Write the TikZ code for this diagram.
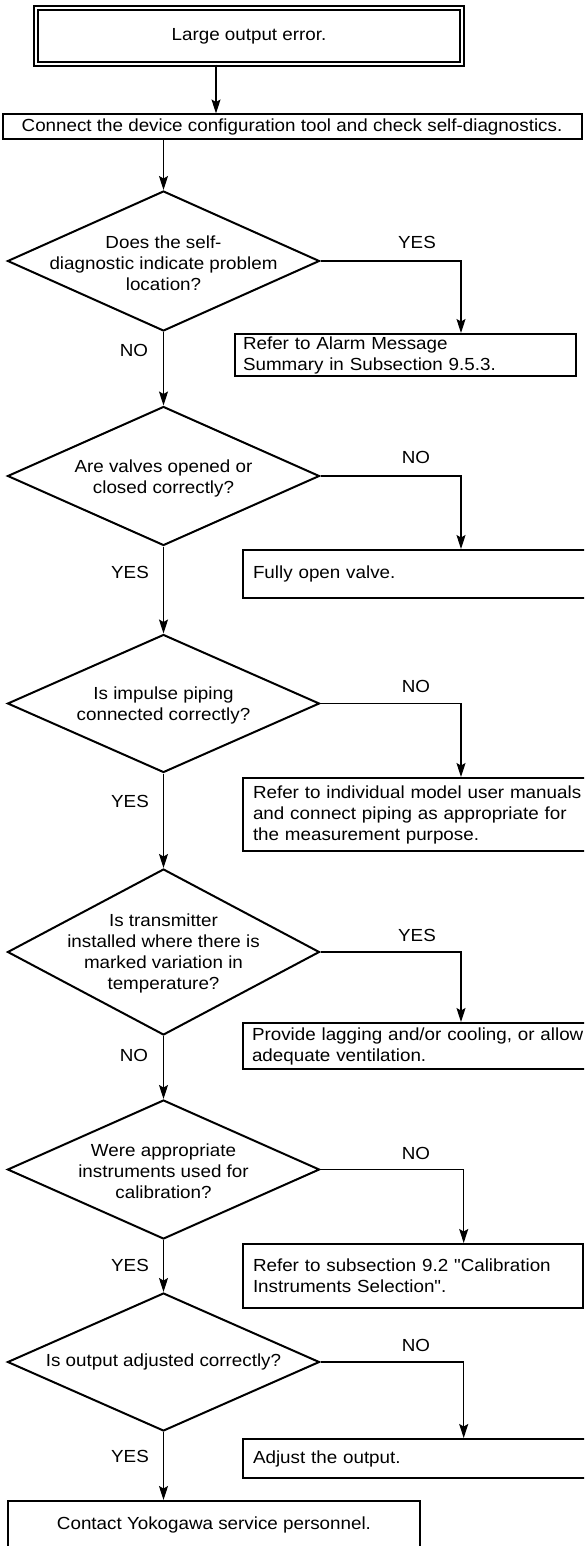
\documentclass[tikz,border=0pt]{standalone}
\usepackage{fontspec}
\setmainfont{Liberation Sans}[FakeStretch=1.075, Ligatures=TeXOff]
\usetikzlibrary{arrows.meta,shapes.geometric}
\begin{document}
\begin{tikzpicture}[x=1pt,y=-1pt,
  every node/.style={font=\fontsize{17.5}{21}\selectfont},
  box/.style={draw, line width=2pt, rectangle, inner sep=0pt},
  lbox/.style={box, anchor=north west, align=left, inner xsep=10pt, text width=#1},
  dia/.style={draw, line width=2pt, diamond, minimum width=312pt, inner sep=0pt},
  dtext/.style={align=center, inner sep=0pt},
  lab/.style={inner sep=0pt},
  arr/.style={line width=1.2pt, -{Stealth[length=14pt,width=9pt,inset=2.5pt]}},
]
\useasboundingbox (0,0) rectangle (584,1546);
\fill[white] (0,0) rectangle (584,1546);
\begin{scope}
\clip (0,0) rectangle (584,1546);

% start box (double border)
\node[draw, double, line width=1.5pt, double distance=2.4pt, minimum width=426pt, minimum height=56pt, inner sep=0pt] (top) at (249,36) {Large output error.};

\node[box, minimum width=579pt, minimum height=25pt] (box2) at (292,127) {Connect the device configuration tool and check self-diagnostics.};

\coordinate (ax) at (216,0);
\coordinate (rc1) at (461,0);
\coordinate (rc2) at (463.7,0);

% decisions
\node[dia, minimum height=140pt] (d1) at (163.5,261) {};
\node[dtext] (d1t) at (163.5,263) {Does the self-\\diagnostic indicate problem\\location?};

\node[dia, minimum height=139pt] (d2) at (163.5,476) {};
\node[dtext] (d2t) at (163.5,478) {Are valves opened or\\closed correctly?};

\node[dia, minimum height=138pt] (d3) at (163.5,703.5) {};
\node[dtext] (d3t) at (163.5,705) {Is impulse piping\\connected correctly?};

\node[dia, minimum height=166pt] (d4) at (163.5,952) {};
\node[dtext] (d4t) at (163.5,953) {Is transmitter\\installed where there is\\marked variation in\\temperature?};

\node[dia, minimum height=139pt] (d5) at (163.5,1169.5) {};
\node[dtext] (d5t) at (163.5,1171) {Were appropriate\\instruments used for\\calibration?};

\node[dia, minimum height=138pt] (d6) at (163.5,1362) {};
\node[dtext] (d6t) at (163.5,1362) {Is output adjusted correctly?};

% action boxes
\node[lbox=325pt, inner xsep=8pt, minimum height=42pt] (b1) at (234,333) {Refer to Alarm Message\\Summary in Subsection 9.5.3.};
\node[lbox=340pt, minimum height=48pt] (b2) at (242,549) {Fully open valve.};
\node[lbox=340pt, minimum height=73pt] (b3) at (242,777) {Refer to individual model user manuals\\and connect piping as appropriate for\\the measurement purpose.};
\node[lbox=340pt, inner xsep=9pt, minimum height=46pt] (b4) at (242,1022) {Provide lagging and/or cooling, or allow\\adequate ventilation.};
\node[lbox=320pt, minimum height=64pt] (b5) at (242,1243) {Refer to subsection 9.2 "Calibration\\Instruments Selection".};
\node[lbox=340pt, minimum height=39pt] (b6) at (242,1438) {Adjust the output.};
\node[box, anchor=north west, minimum width=412pt, minimum height=48pt] (fin) at (7,1500) {Contact Yokogawa service personnel.};

% labels
\node[lab] (l1) at (417,242) {YES};
\node[lab] (l2) at (134,350) {NO};
\node[lab] (l3) at (416,457) {NO};
\node[lab] (l4) at (130,572) {YES};
\node[lab] (l5) at (416,686) {NO};
\node[lab] (l6) at (130,801) {YES};
\node[lab] (l7) at (417,935) {YES};
\node[lab] (l8) at (134,1055) {NO};
\node[lab] (l9) at (416,1153) {NO};
\node[lab] (l10) at (130,1265) {YES};
\node[lab] (l11) at (416,1345) {NO};
\node[lab] (l12) at (130,1456) {YES};

% connectors
\draw[arr] (top.south -| ax) -- (box2.north -| ax);
\draw[arr] (box2.south -| d1.north) -- (d1.north);
\draw[arr] (d1.south) -- (d2.north);
\draw[arr] (d2.south) -- (d3.north);
\draw[arr] (d3.south) -- (d4.north);
\draw[arr] (d4.south) -- (d5.north);
\draw[arr] (d5.south) -- (d6.north);
\draw[arr] (d6.south) -- (fin.north -| d6.south);

\draw[arr] (d1.east) -| (b1.north -| rc1);
\draw[arr] (d2.east) -| (b2.north -| rc1);
\draw[arr] (d3.east) -| (b3.north -| rc1);
\draw[arr] (d4.east) -| (b4.north -| rc1);
\draw[arr] (d5.east) -| (b5.north -| rc2);
\draw[arr] (d6.east) -| (b6.north -| rc2);
\end{scope}
\end{tikzpicture}
\end{document}
